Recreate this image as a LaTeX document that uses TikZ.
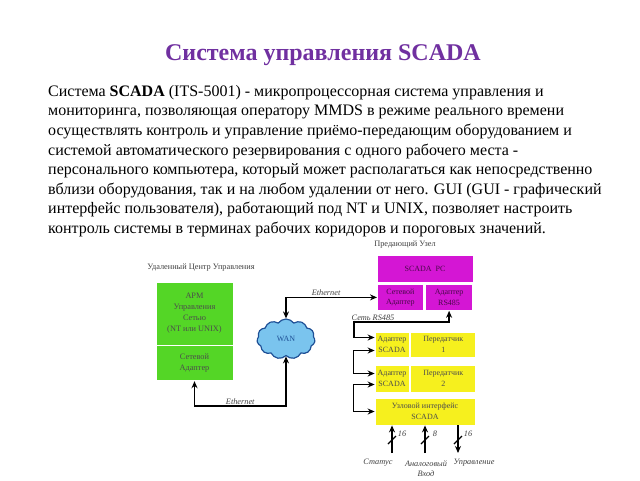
\documentclass[tikz,border=0pt]{standalone}
\usepackage{fontspec}
\setmainfont{Liberation Serif}[
  BoldFont={Liberation Serif Bold},
  ItalicFont={Liberation Serif Italic},
  BoldItalicFont={Liberation Serif Bold Italic}]
\usepackage{tikz}
\usetikzlibrary{
  shapes.symbols,
  arrows.meta,
  positioning,
  calc
}
\definecolor{zelenyj}{RGB}{84, 214, 38}
\definecolor{purpur}{RGB}{212, 22, 212}
\definecolor{zheltyj}{RGB}{246, 240, 30}
\definecolor{fiolet}{RGB}{112, 48, 160}
\definecolor{nebo}{RGB}{122, 196, 238}
\definecolor{sinij}{RGB}{30, 80, 150}

\begin{document}
\begin{tikzpicture}[
  x=1pt, y=-1pt,
  zel/.style  = {
    rectangle, fill=zelenyj, draw=white, line width=0.8pt, inner sep=0pt,
    align=center, text=black!70, font=\fontsize{8.3}{11}\selectfont
  },
  mag/.style  = {
    rectangle, fill=purpur, draw=white, line width=0.8pt, inner sep=0pt,
    align=center, text=purpur!35!black, font=\fontsize{8}{10.5}\selectfont
  },
  zht/.style  = {
    rectangle, fill=zheltyj, draw=white, line width=0.8pt, inner sep=0pt,
    align=center, text=black!70, font=\fontsize{8}{10.5}\selectfont
  },
  lbl/.style  = {inner sep=1pt, align=center, text=black!75, font=\fontsize{8.3}{10}\selectfont},
  lblit/.style = {lbl, font=\fontsize{8.3}{10}\selectfont\itshape},
  arr/.style  = {-{Stealth[length=7pt,width=6pt]}, line width=1.5pt},
  arr2/.style = {{Stealth[length=7pt,width=6pt]}-{Stealth[length=7pt,width=6pt]}, line width=1.5pt}
]
\useasboundingbox (0,0) rectangle (640,480);

% Заголовок и текст
\node[font=\fontsize{24}{28}\selectfont\bfseries, text=fiolet] (titul) at (323,55) {Система управления SCADA};
\node[anchor=north west, align=left, inner sep=0pt, font=\fontsize{16}{19.6}\selectfont] (opis) at (48,85) {%
Система \textbf{SCADA} (ITS-5001) - микропроцессорная система управления и\\
мониторинга, позволяющая оператору MMDS в режиме реального времени\\
осуществлять контроль и управление приёмо-передающим оборудованием и\\
системой автоматического резервирования с одного рабочего места -\\
персонального компьютера, который может располагаться как непосредственно\\
вблизи оборудования, так и на любом удалении от него. GUI (GUI - графический\\
интерфейс пользователя), работающий под NT и UNIX, позволяет настроить\\
контроль системы в терминах рабочих коридоров и пороговых значений.};

% Удаленный центр
\node[lbl] (udal) at (201,268) {Удаленный Центр Управления};
\node[zel, minimum width=77pt, minimum height=63pt] (arm) at (194.5,313.5) {АРМ\\Управления\\Сетью\\(NT или UNIX)};
\node[zel, minimum width=77pt, minimum height=35pt, below=0pt of arm] (lanpc) {Сетевой\\Адаптер};

% Сеть
\node[cloud, cloud puffs=11, cloud puff arc=110, aspect=1.6, fill=nebo, draw=sinij, line width=1.2pt,
      minimum width=58pt, minimum height=40pt, inner sep=0pt, text=sinij,
      font=\fontsize{8}{9}\selectfont] (wan) at (286,339) {WAN};

% Предающий узел
\node[lbl] (predu) at (405,245) {Предающий Узел};
\node[mag, minimum width=96pt, minimum height=27pt] (scpc) at (425,268.5) {SCADA\ \ PC};
\node[mag, minimum width=46pt, minimum height=26pt, anchor=north west] (lanad) at (377,284) {Сетевой\\Адаптер};
\node[mag, minimum width=47pt, minimum height=26pt, anchor=north east] (rsad) at (473,284) {Адаптер\\RS485};

\node[zht, minimum width=34pt, minimum height=25pt] (ad1) at (392,344.5) {Адаптер\\SCADA};
\node[zht, minimum width=65pt, minimum height=25pt, right=1pt of ad1] (tx1) {Передатчик\\1};
\node[zht, minimum width=34pt, minimum height=27pt] (ad2) at (392,378.5) {Адаптер\\SCADA};
\node[zht, minimum width=65pt, minimum height=27pt, right=1pt of ad2] (tx2) {Передатчик\\2};
\node[zht, minimum width=100pt, minimum height=27pt] (uzel) at (425,411.5) {Узловой интерфейс\\SCADA};

% Ethernet
\coordinate (ethniz) at ($(lanpc.south)+(0,25)$);
\draw[arr2] (wan.north) |- node[lblit, above, pos=0.72] {Ethernet} (lanad.west);
\draw[arr2] (lanpc.south) -- (ethniz) -| node[lblit, above, pos=0.25] {Ethernet} (wan.south);

% Сеть RS485
\coordinate (shina) at (354,322);
\draw[arr2] (rsad.south) |- node[lblit, above, pos=0.9] {Сеть RS485} (shina) |- ([yshift=7pt]ad1.west);
\draw[arr2] ([yshift=-6pt]ad1.west) -- ++(-21,0) |- ([yshift=5pt]ad2.west);
\draw[arr2] ([yshift=-6pt]ad2.west) -- ++(-21,0) |- (uzel.west);

% Входы и выходы узлового интерфейса
\coordinate (vh1) at (392,453);
\coordinate (vh2) at (425,453);
\coordinate (vyh) at (458,453);
\draw[arr] (vh1) -- (vh1 |- uzel.south);
\draw[arr] (vh2) -- (vh2 |- uzel.south);
\draw[arr] (vyh |- uzel.south) -- (vyh);
\foreach \c/\n in {vh1/16, vh2/8, vyh/16} {
  \draw[line width=1.2pt] ($(\c)+(-4,-9)$) -- ++(8,-8);
  \node[lblit] at ($(\c)+(10,-19)$) {\n};
}
\node[lblit] (status) at (378,463) {Статус};
\node[lblit] (analog) at (426,469) {Аналоговый\\Вход};
\node[lblit] (uprav)  at (474,463) {Управление};

\end{tikzpicture}
\end{document}
